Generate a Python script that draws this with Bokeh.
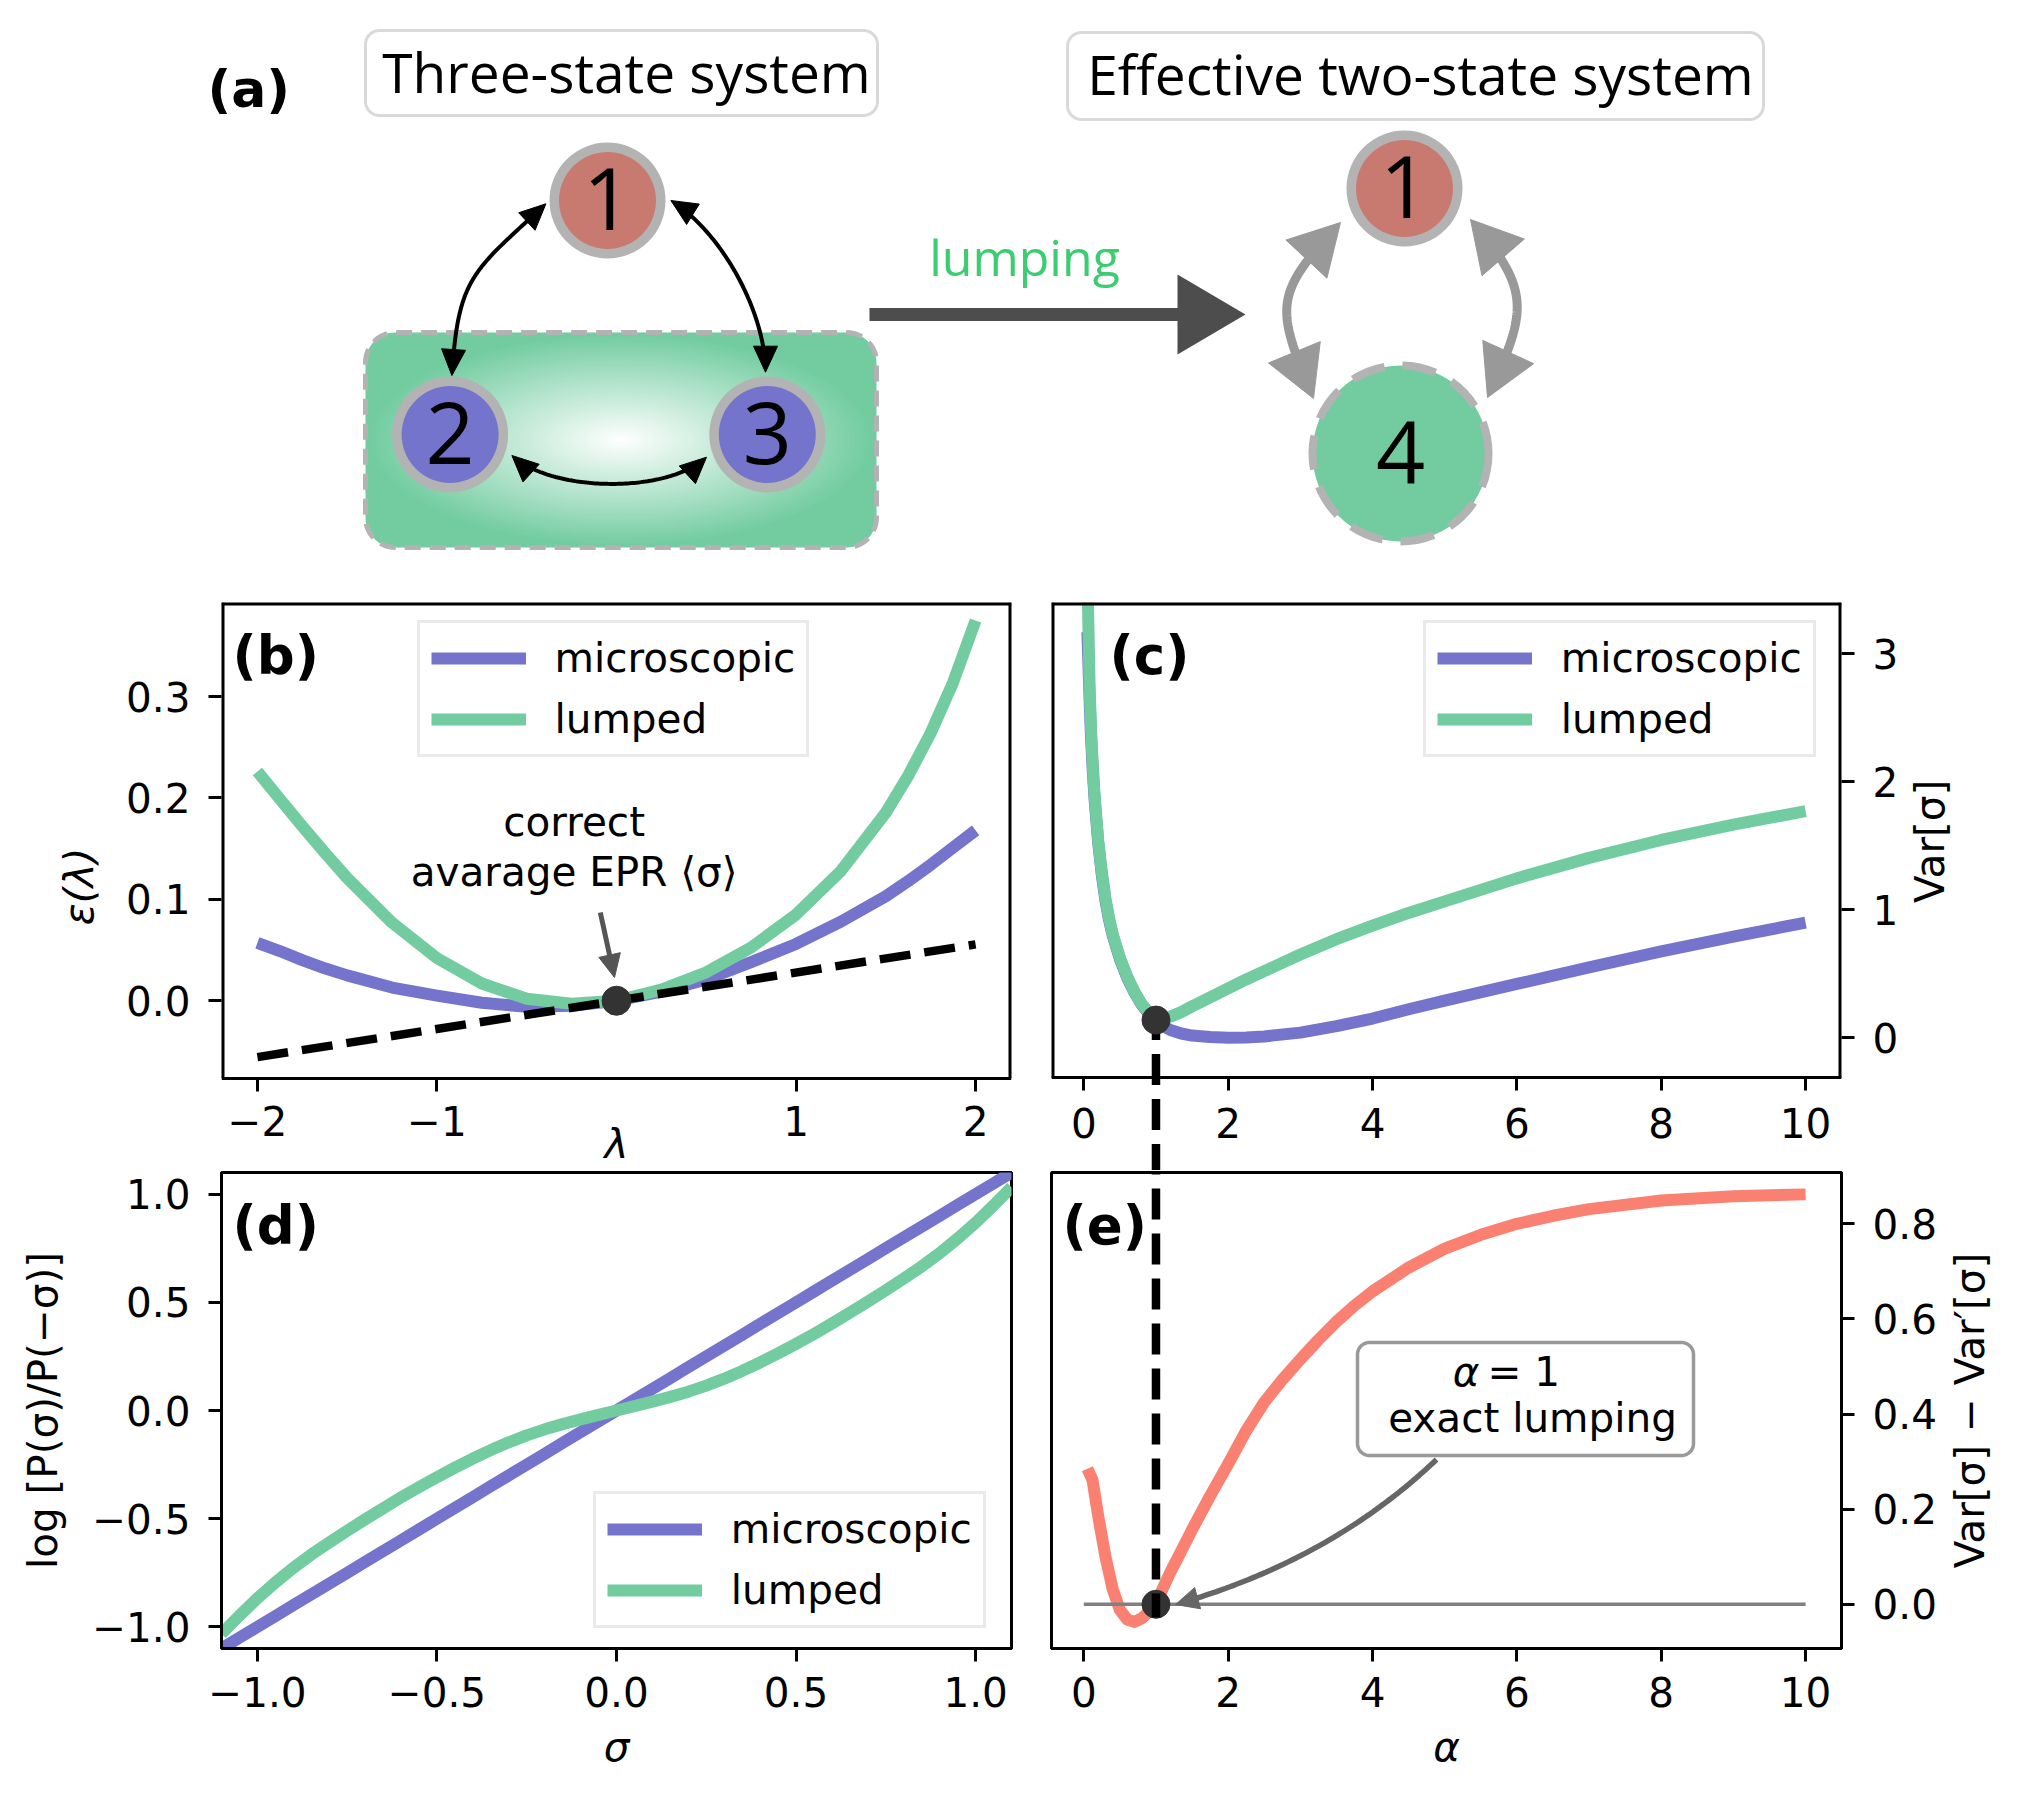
import math
import numpy as np
from bokeh.plotting import figure
from bokeh.models import Range1d, FixedTicker, Legend, LegendItem, Label, Title
from bokeh.layouts import column, row
from bokeh.embed import file_html
from bokeh.resources import INLINE
from bokeh.core.properties import value

# ======================= DATA =======================
states_left = ["1", "2", "3"]
states_right = ["1", "4"]
title_left = "Three-state system"
title_right = "Effective two-state system"
lumping_label = "lumping"

# (b) scaled cumulant generating function
lam = [-2.0, -1.875, -1.75, -1.625, -1.5, -1.25, -1.0, -0.75, -0.5, -0.25, 0.0,
       0.25, 0.5, 0.75, 1.0, 1.25, 1.5, 1.625, 1.75, 1.875, 2.0]
eps_micro = [0.057, 0.049, 0.040, 0.032, 0.025, 0.013, 0.005, -0.002, -0.006, -0.005, 0.0,
             0.009, 0.021, 0.038, 0.056, 0.078, 0.103, 0.118, 0.134, 0.151, 0.168]
eps_lumped = [0.226, 0.199, 0.172, 0.146, 0.121, 0.077, 0.042, 0.017, 0.002, -0.003, 0.0,
              0.011, 0.028, 0.0525, 0.085, 0.128, 0.1855, 0.222, 0.264, 0.314, 0.375]
lam_tangent = [-2.0, 2.0]
eps_tangent = [-0.0556, 0.0556]
lam_ticks = [-2, -1, 1, 2]
eps_ticks = [0.0, 0.1, 0.2, 0.3]

# (c) variance vs alpha
alpha_c = [0.05, 0.08, 0.1, 0.125, 0.15, 0.2, 0.25, 0.3, 0.35, 0.4, 0.5, 0.6, 0.7, 0.8, 0.9, 1.0,
           1.1, 1.2, 1.35, 1.5, 1.75, 2.0, 2.25, 2.5, 3.0, 3.5, 4.0, 4.5, 5.0, 6.0, 7.0, 8.0, 9.0, 10.0]
var_micro = [3.17, 2.65, 2.35, 2.08, 1.86, 1.52, 1.27, 1.07, 0.92, 0.80, 0.615, 0.47, 0.355, 0.26, 0.19, 0.138,
             0.09, 0.06, 0.033, 0.017, 0.005, 0.0, 0.002, 0.01, 0.04, 0.09, 0.15, 0.222, 0.29, 0.42, 0.55, 0.675,
             0.79, 0.90]
var_lumped = [3.62, 2.75, 2.42, 2.12, 1.89, 1.54, 1.29, 1.09, 0.935, 0.81, 0.625, 0.48, 0.36, 0.265, 0.195, 0.138,
              0.146, 0.165, 0.20, 0.245, 0.315, 0.385, 0.455, 0.52, 0.65, 0.77, 0.875, 0.975, 1.065, 1.245, 1.405,
              1.545, 1.665, 1.77]
alpha_ticks = [0, 2, 4, 6, 8, 10]
var_ticks = [0, 1, 2, 3]
alpha_exact = 1.0
var_exact = 0.138

# (d) fluctuation-theorem check
sigma = [-1.1, -1.05, -1.0, -0.95, -0.9, -0.85, -0.8, -0.75, -0.7, -0.65, -0.6, -0.55, -0.5, -0.45, -0.4,
         -0.35, -0.3, -0.25, -0.2, -0.15, -0.1, -0.05, 0.0, 0.05, 0.1, 0.15, 0.2, 0.25, 0.3, 0.35, 0.4, 0.45,
         0.5, 0.55, 0.6, 0.65, 0.7, 0.75, 0.8, 0.85, 0.9, 0.95, 1.0, 1.05, 1.1]
logratio_micro = [-1.1, -1.05, -1.0, -0.95, -0.9, -0.85, -0.8, -0.75, -0.7, -0.65, -0.6, -0.55, -0.5, -0.45, -0.4,
                  -0.35, -0.3, -0.25, -0.2, -0.15, -0.1, -0.05, 0.0, 0.05, 0.1, 0.15, 0.2, 0.25, 0.3, 0.35, 0.4,
                  0.45, 0.5, 0.55, 0.6, 0.65, 0.7, 0.75, 0.8, 0.85, 0.9, 0.95, 1.0, 1.05, 1.1]
logratio_lumped = [-1.032, -0.948, -0.868, -0.795, -0.727, -0.666, -0.61, -0.556, -0.503, -0.452, -0.402, -0.354,
                   -0.308, -0.264, -0.222, -0.183, -0.147, -0.115, -0.087, -0.063, -0.041, -0.02, 0.0, 0.02, 0.041,
                   0.063, 0.087, 0.115, 0.147, 0.183, 0.222, 0.264, 0.308, 0.354, 0.402, 0.452, 0.503, 0.556, 0.61,
                   0.666, 0.727, 0.795, 0.868, 0.948, 1.032]
sigma_ticks = [-1.0, -0.5, 0.0, 0.5, 1.0]

# (e) variance difference
alpha_e = [0.05, 0.12, 0.2, 0.3, 0.4, 0.5, 0.6, 0.7, 0.8, 0.9, 1.0, 1.1, 1.2, 1.3, 1.4, 1.5, 1.75, 2.0, 2.25,
           2.5, 2.75, 3.0, 3.25, 3.5, 3.75, 4.0, 4.5, 5.0, 5.5, 6.0, 6.5, 7.0, 8.0, 9.0, 10.0]
dvar = [0.285, 0.262, 0.185, 0.10, 0.032, -0.012, -0.032, -0.037, -0.030, -0.016, 0.0, 0.035, 0.068, 0.097,
        0.127, 0.157, 0.228, 0.295, 0.365, 0.425, 0.472, 0.515, 0.556, 0.594, 0.628, 0.658, 0.708, 0.748, 0.777,
        0.80, 0.817, 0.831, 0.849, 0.858, 0.862]
dvar_ticks = [0.0, 0.2, 0.4, 0.6, 0.8]
ref_line_alpha = [0.0, 10.0]
ref_line_val = [0.0, 0.0]

# ======================= STYLE =======================
PURPLE = "#7474cc"
GREEN = "#72cca0"
SALMON = "#fa8072"
DOT = "#333333"
NODE_RED = "#c97a70"
RING = "#b3b3b3"
FONT = "DejaVu Sans"
FS = "40.5px"
MINUS = "\u2212"
DASH = "31 14"


def fmt(v, nd):
    s = f"{abs(v):.{nd}f}"
    return (MINUS + s) if v < 0 else s


def rrect(x0, y0, x1, y1, r, n=14):
    xs, ys = [], []
    for cx, cy, a0 in ((x1 - r, y0 + r, -90), (x1 - r, y1 - r, 0), (x0 + r, y1 - r, 90), (x0 + r, y0 + r, 180)):
        for a in np.linspace(a0, a0 + 90, n):
            xs.append(cx + r * math.cos(math.radians(a)))
            ys.append(cy + r * math.sin(math.radians(a)))
    return xs, ys


def cubic(p0, c1, c2, p3, t0=0.0, t1=1.0, n=80):
    t = np.linspace(t0, t1, n)[:, None]
    P0, C1, C2, P3 = (np.array(v, dtype=float) for v in (p0, c1, c2, p3))
    pts = ((1 - t) ** 3) * P0 + 3 * ((1 - t) ** 2) * t * C1 + 3 * (1 - t) * t ** 2 * C2 + t ** 3 * P3
    return pts[:, 0], pts[:, 1]


def head(tip, u, length, width):
    ux, uy = u
    n = math.hypot(ux, uy)
    ux, uy = ux / n, uy / n
    bx, by = tip[0] - ux * length, tip[1] - uy * length
    px, py = -uy, ux
    return ([tip[0], bx + px * width / 2, bx - px * width / 2],
            [tip[1], by + py * width / 2, by - py * width / 2])


def double_arc(p, tipA, uA, tipB, uB, a, color, lw, hl, hw):
    c1 = (tipA[0] - uA[0] * a, tipA[1] - uA[1] * a)
    c2 = (tipB[0] - uB[0] * a, tipB[1] - uB[1] * a)
    tr = 0.6 * hl / (3 * a)
    xs, ys = cubic(tipA, c1, c2, tipB, tr, 1 - tr)
    p.line(xs, ys, line_color=color, line_width=lw)
    for tip, u in ((tipA, uA), (tipB, uB)):
        hx, hy = head(tip, u, hl, hw)
        p.patch(hx, hy, fill_color=color, line_color=color, line_width=1)


def mapper(fx0, fx1, fy0, fy1, xr, yr):
    def f(px, py):
        x = xr[0] + (px - fx0) / (fx1 - fx0) * (xr[1] - xr[0])
        y = yr[1] - (py - fy0) / (fy1 - fy0) * (yr[1] - yr[0])
        return x, y
    return f


# ======================= PANEL (a) =======================
pa = figure(width=2017, height=580, x_range=Range1d(0, 2017), y_range=Range1d(580, 0),
            output_backend="svg", toolbar_location=None, x_axis_type=None, y_axis_type=None,
            min_border=0, outline_line_color=None, background_fill_color="white", border_fill_color="white")

pa.text(x=[207], y=[88], text=["(a)"], text_font=value(FONT), text_font_style="bold",
        text_font_size="52px", text_baseline="middle", text_align="left", text_color="black")

for (x0, y0, x1, y1), tx, ty, t in (((365, 30, 877, 115), 626, 70.5, title_left),
                                    ((1067, 32, 1763, 119), 1420, 72.5, title_right)):
    bx, by = rrect(x0, y0, x1, y1, 14)
    pa.patch(bx, by, fill_color="white", line_color="#d9d9d9", line_width=3)
    pa.text(x=[tx], y=[ty], text=[t], text_font=value("Open Sans"), text_font_size="55px",
            text_align="center", text_baseline="middle", text_color="black")

gx, gy = rrect(365, 332, 876, 547, 30)
pa.patch(gx, gy, fill_color=GREEN, line_color=None)
g_rgb = np.array([114, 204, 160])
N = 60
svals = np.linspace(1.0, 1.0 / N, N)
cols = ["#%02x%02x%02x" % tuple(int(round(c)) for c in (255 * (1 - s) + g_rgb * s)) for s in svals]
pa.ellipse(x=[620.5] * N, y=[439.5] * N, width=list(2 * 255 * svals), height=list(2 * 107 * svals),
           fill_color=cols, line_color=None)
pa.patch(gx, gy, fill_alpha=0, line_color=RING, line_width=5, line_dash="16 9")

left_x = [607, 449.6, 766.8]
left_y = [200, 434, 434]
pa.circle(x=left_x, y=left_y, radius=58, fill_color=RING, line_color=None)
pa.circle(x=left_x, y=left_y, radius=48.5, fill_color=[NODE_RED, PURPLE, PURPLE], line_color=None)
pa.text(x=left_x, y=[v - 2 for v in left_y], text=states_left, text_font=value("Open Sans"),
        text_font_size="86px", text_align="center", text_baseline="middle", text_color="black")

double_arc(pa, (545.4, 203.3), (0.73, -0.68), (451.4, 375), (-0.064, 0.998), 100, "black", 4, 26, 24)
double_arc(pa, (670.4, 200), (-0.85, -0.53), (765, 371.7), (0, 1), 60, "black", 4, 26, 24)
double_arc(pa, (511.4, 455), (-0.74, -0.68), (706, 456.7), (0.74, -0.68), 54, "black", 4, 26, 24)

pa.patch([869, 1177, 1177, 1245, 1177, 1177, 869], [307.5, 307.5, 274, 314, 354, 320.5, 320.5],
         fill_color="#4d4d4d", line_color=None)
pa.text(x=[1024], y=[256], text=[lumping_label], text_font=value("Open Sans"), text_font_size="50px",
        text_align="center", text_baseline="middle", text_color="#3ccc72")

right_x = [1404, 1400]
right_y = [188, 453]
double_arc(pa, (1340, 222), (0.68, -0.73), (1313, 398), (0.38, 0.92), 100, "#999999", 9, 50, 56)
double_arc(pa, (1470, 219), (-0.654, -0.757), (1487, 397), (-0.415, 0.91), 95, "#999999", 9, 50, 56)
pa.circle(x=[right_x[0]], y=[right_y[0]], radius=58, fill_color=RING, line_color=None)
pa.circle(x=[right_x[0]], y=[right_y[0]], radius=48.5, fill_color=NODE_RED, line_color=None)
pa.circle(x=[right_x[1]], y=[right_y[1]], radius=88, fill_color=GREEN, line_color=RING,
          line_width=8, line_dash="34 18")
pa.text(x=right_x, y=[v - 2 for v in right_y], text=states_right, text_font=value("Open Sans"),
        text_font_size="86px", text_align="center", text_baseline="middle", text_color="black")


# ======================= helpers for axes panels =======================
def panel(width, height, xr, yr, borders, right=False, outline=True):
    p = figure(width=width, height=height, x_range=Range1d(*xr), y_range=Range1d(*yr),
               output_backend="svg", toolbar_location=None,
               y_axis_location=("right" if right else "left"),
               min_border_left=borders[0], min_border_right=borders[1],
               min_border_top=borders[2], min_border_bottom=borders[3],
               background_fill_color="white", border_fill_color="white")
    p.xgrid.visible = False
    p.ygrid.visible = False
    p.outline_line_color = "black" if outline else None
    p.outline_line_width = 3
    for ax in p.axis:
        ax.axis_line_width = 3
        ax.major_tick_line_width = 3
        ax.major_tick_out = 13
        ax.major_tick_in = 0
        ax.minor_tick_line_color = None
        ax.major_label_text_font = FONT
        ax.major_label_text_font_size = FS
        ax.major_label_text_color = "black"
        ax.axis_label_text_font = FONT
        ax.axis_label_text_font_size = FS
        ax.axis_label_text_color = "black"
        ax.axis_label_text_font_style = "normal"
    p.xaxis.major_label_standoff = 15
    p.yaxis.major_label_standoff = 18
    return p


def box_sides(p, xr, yb, yt, top_w):
    # spines drawn as glyphs (frame edges are half-clipped, hence width 6)
    p.line([xr[0], xr[0]], [yb, yt], line_color="black", line_width=6)
    p.line([xr[1], xr[1]], [yb, yt], line_color="black", line_width=6)
    p.line([xr[0], xr[1]], [yt, yt], line_color="black", line_width=top_w)


def set_ticks(axis, ticks, nd):
    axis.ticker = FixedTicker(ticks=ticks)
    axis.major_label_overrides = {t: fmt(t, nd) for t in ticks}


def add_legend(p, rends, loc):
    leg = Legend(items=[LegendItem(label="microscopic", renderers=[rends[0]]),
                        LegendItem(label="lumped", renderers=[rends[1]])],
                 location=loc, orientation="vertical", margin=0, padding=11, spacing=13,
                 glyph_width=95, glyph_height=40, label_height=40, label_standoff=29,
                 label_text_font=FONT, label_text_font_size=FS, label_text_color="black",
                 border_line_color="#d5d5d5", border_line_width=3,
                 background_fill_color="white", background_fill_alpha=0.8)
    p.add_layout(leg)


def tag(p, txt, x, y):
    p.add_layout(Label(x=x, y=y, x_units="screen", y_units="screen", text=txt, text_font=FONT,
                       text_font_style="bold", text_font_size="53px", text_baseline="middle",
                       text_align="left", text_color="black"))


def side_title_fig(x0, x1, row_top, row_bottom, frame_top, frame_bottom, cx, txt, align, offset):
    # narrow canvas holding a right-hand y label as a native (rotated) side title
    f = figure(width=x1 - x0, height=row_bottom - row_top, x_range=Range1d(0, 1), y_range=Range1d(0, 1),
               output_backend="svg", toolbar_location=None, x_axis_type=None, y_axis_type=None,
               min_border_left=int(round(cx - x0 + 23)), min_border_right=0,
               min_border_top=frame_top - row_top, min_border_bottom=row_bottom - frame_bottom,
               outline_line_color=None, background_fill_color="white", border_fill_color="white")
    f.add_layout(Title(text=txt, align=align, offset=offset, standoff=0, text_font=FONT,
                       text_font_size=FS, text_font_style="normal", text_color="black"), "left")
    return f


LW = 12
ROW1_TOP, ROW_SPLIT, ROW2_BOTTOM = 580, 1170, 1796

# ======================= PANEL (b) =======================
xr_b = (-2.2, 2.2)
b_box = (-0.0762, 0.3927)
yr_b = (-0.1674, 0.3927)
pb = panel(1031, ROW_SPLIT - ROW1_TOP, xr_b, yr_b, (221, 20, 22, 0), outline=False)
to_b = mapper(221, 1011, 602, ROW_SPLIT, xr_b, yr_b)
set_ticks(pb.xaxis[0], lam_ticks, 0)
set_ticks(pb.yaxis[0], eps_ticks, 1)
pb.xaxis.fixed_location = b_box[0]
pb.yaxis.axis_line_color = None
pb.xaxis.axis_label = "\u03bb"
pb.xaxis.axis_label_text_font_style = "italic"
pb.xaxis.axis_label_standoff = -20
pb.yaxis.axis_label = "\u03b5(\u03bb)"
pb.yaxis.axis_label_text_font_style = "italic"
pb.yaxis.axis_label_standoff = 20
rb1 = pb.line(lam, eps_micro, line_color=PURPLE, line_width=LW, line_join="round")
rb2 = pb.line(lam, eps_lumped, line_color=GREEN, line_width=LW, line_join="round")
pb.line(lam_tangent, eps_tangent, line_color="black", line_width=8.5, line_dash=DASH)
pb.scatter([0.0], [0.0], size=29, color=DOT)
tx, ty1 = to_b(573.6, 821.3)
_, ty2 = to_b(573.6, 871.3)
pb.text(x=[tx, tx], y=[ty1, ty2], text=["correct", "avarage EPR \u27e8\u03c3\u27e9"], text_align="center",
        text_baseline="middle", text_font=value(FONT), text_font_size=FS, text_color="black")
tip_px, start_px = (614.0, 977.0), (599.8, 912.0)
u = (tip_px[0] - start_px[0], tip_px[1] - start_px[1])
nrm = math.hypot(*u)
base_px = (tip_px[0] - u[0] / nrm * 18, tip_px[1] - u[1] / nrm * 18)
lx0, ly0 = to_b(*start_px)
lx1, ly1 = to_b(*base_px)
pb.line([lx0, lx1], [ly0, ly1], line_color="#555555", line_width=5)
hx, hy = head(tip_px, u, 23, 22)
hd = [to_b(a, b) for a, b in zip(hx, hy)]
pb.patch([h[0] for h in hd], [h[1] for h in hd], fill_color="#555555", line_color="#555555")
box_sides(pb, xr_b, b_box[0], b_box[1], 6)
add_legend(pb, (rb1, rb2), (195.5, ROW_SPLIT - 757))
tag(pb, "(b)", 11, ROW_SPLIT - 655)

# ======================= PANEL (c) =======================
xr_c = (-0.4475, 10.4975)
c_box = (-0.314, 3.40)
yr_c = (-1.0372, 3.40)
pc = panel(872, ROW_SPLIT - ROW1_TOP, xr_c, yr_c, (20, 62, 22, 0), right=True, outline=False)
set_ticks(pc.xaxis[0], alpha_ticks, 0)
set_ticks(pc.yaxis[0], var_ticks, 0)
pc.xaxis.fixed_location = c_box[0]
pc.xaxis.major_label_standoff = 17
pc.yaxis.axis_line_color = None
rc1 = pc.line(alpha_c, var_micro, line_color=PURPLE, line_width=LW, line_join="round")
rc2 = pc.line(alpha_c, var_lumped, line_color=GREEN, line_width=LW, line_join="round")
pc.line([alpha_exact, alpha_exact], [var_exact, yr_c[0]], line_color="black", line_width=8.5,
        line_dash=DASH, line_dash_offset=11)
pc.scatter([alpha_exact], [var_exact], size=28, color=DOT)
box_sides(pc, xr_c, c_box[0], c_box[1], 6)
add_legend(pc, (rc1, rc2), (371.8, ROW_SPLIT - 757))
tag(pc, "(c)", 58, ROW_SPLIT - 655)
# the narrow canvas frame is aligned with the (b)/(c) frames (602..1170); the label starts
# (bottom end) at 840 + half its length so that it is centred on the visible box
labc = side_title_fig(1903, 2017, ROW1_TOP, ROW_SPLIT, 602, ROW_SPLIT, 1930, "Var[\u03c3]",
                      "left", ROW_SPLIT - 902.5)

# ======================= PANEL (d) =======================
xr_d, yr_d = (-1.1, 1.1), (-1.1, 1.1)
pd_ = panel(1031, ROW2_BOTTOM - ROW_SPLIT, xr_d, yr_d, (221, 20, 2, 148))
set_ticks(pd_.xaxis[0], sigma_ticks, 1)
set_ticks(pd_.yaxis[0], sigma_ticks, 1)
pd_.xaxis.axis_label = "\u03c3"
pd_.xaxis.axis_label_text_font_style = "italic"
pd_.xaxis.axis_label_standoff = 13
pd_.yaxis.axis_label = "log [P(\u03c3)/P(\u2212\u03c3)]"
pd_.yaxis.axis_label_standoff = 22
rd1 = pd_.line(sigma, logratio_micro, line_color=PURPLE, line_width=LW, line_join="round")
rd2 = pd_.line(sigma, logratio_lumped, line_color=GREEN, line_width=LW, line_join="round")
add_legend(pd_, (rd1, rd2), (371.8, 20))
tag(pd_, "(d)", 11, 423.5)

# ======================= PANEL (e) =======================
xr_e, yr_e = (-0.4475, 10.4975), (-0.093, 0.908)
pe = panel(910, ROW2_BOTTOM - ROW_SPLIT, xr_e, yr_e, (20, 100, 2, 148), right=True)
to_e = mapper(1051, 1841, 1172, 1648, xr_e, yr_e)
set_ticks(pe.xaxis[0], alpha_ticks, 0)
set_ticks(pe.yaxis[0], dvar_ticks, 1)
pe.xaxis.axis_label = "\u03b1"
pe.xaxis.axis_label_text_font_style = "italic"
pe.xaxis.axis_label_standoff = 13
pe.line(alpha_e, dvar, line_color=SALMON, line_width=LW, line_join="round")
pe.line(ref_line_alpha, ref_line_val, line_color="#808080", line_width=3.5)
pe.scatter([alpha_exact], [0.0], size=28, color=DOT)
pe.line([alpha_exact, alpha_exact], [yr_e[1], -0.028], line_color="black", line_width=8.5,
        line_dash=DASH, line_dash_offset=29)
ebx, eby = rrect(1357, 1342, 1693, 1455, 12)
ebd = [to_e(a, b) for a, b in zip(ebx, eby)]
pe.patch([v[0] for v in ebd], [v[1] for v in ebd], fill_color="white", line_color="#999999", line_width=3.5)
ax1, ay1 = to_e(1479, 1371.3)
ax2, _ = to_e(1487, 1371.3)
ax3, ay3 = to_e(1532, 1417.3)
pe.text(x=[ax1], y=[ay1], text=["\u03b1"], text_align="right", text_baseline="middle",
        text_font=value(FONT), text_font_size=FS, text_font_style="italic", text_color="black")
pe.text(x=[ax2], y=[ay1], text=["= 1"], text_align="left", text_baseline="middle",
        text_font=value(FONT), text_font_size=FS, text_color="black")
pe.text(x=[ax3], y=[ay3], text=["exact lumping"], text_align="center", text_baseline="middle",
        text_font=value(FONT), text_font_size=FS, text_color="black")
P0, Cq, P2 = np.array([1436.0, 1459.0]), np.array([1330.0, 1560.0]), np.array([1175.0, 1604.0])
tq = np.linspace(0, 0.93, 60)[:, None]
qpts = (1 - tq) ** 2 * P0 + 2 * (1 - tq) * tq * Cq + tq ** 2 * P2
qd = [to_e(a, b) for a, b in qpts]
pe.line([v[0] for v in qd], [v[1] for v in qd], line_color="#666666", line_width=5.5)
hx, hy = head(tuple(P2), tuple(P2 - Cq), 23, 22)
hd = [to_e(a, b) for a, b in zip(hx, hy)]
pe.patch([h[0] for h in hd], [h[1] for h in hd], fill_color="#666666", line_color="#666666")
tag(pe, "(e)", 11, 423.5)
labe = side_title_fig(1941, 2017, ROW_SPLIT, ROW2_BOTTOM, 1172, 1648, 1970.5,
                      "Var[\u03c3] \u2212 Var\u2032[\u03c3]", "center", 0)

layout = column(pa, row(pb, pc, labc), row(pd_, pe, labe))
open("out.html", "w").write(file_html(layout, INLINE))
